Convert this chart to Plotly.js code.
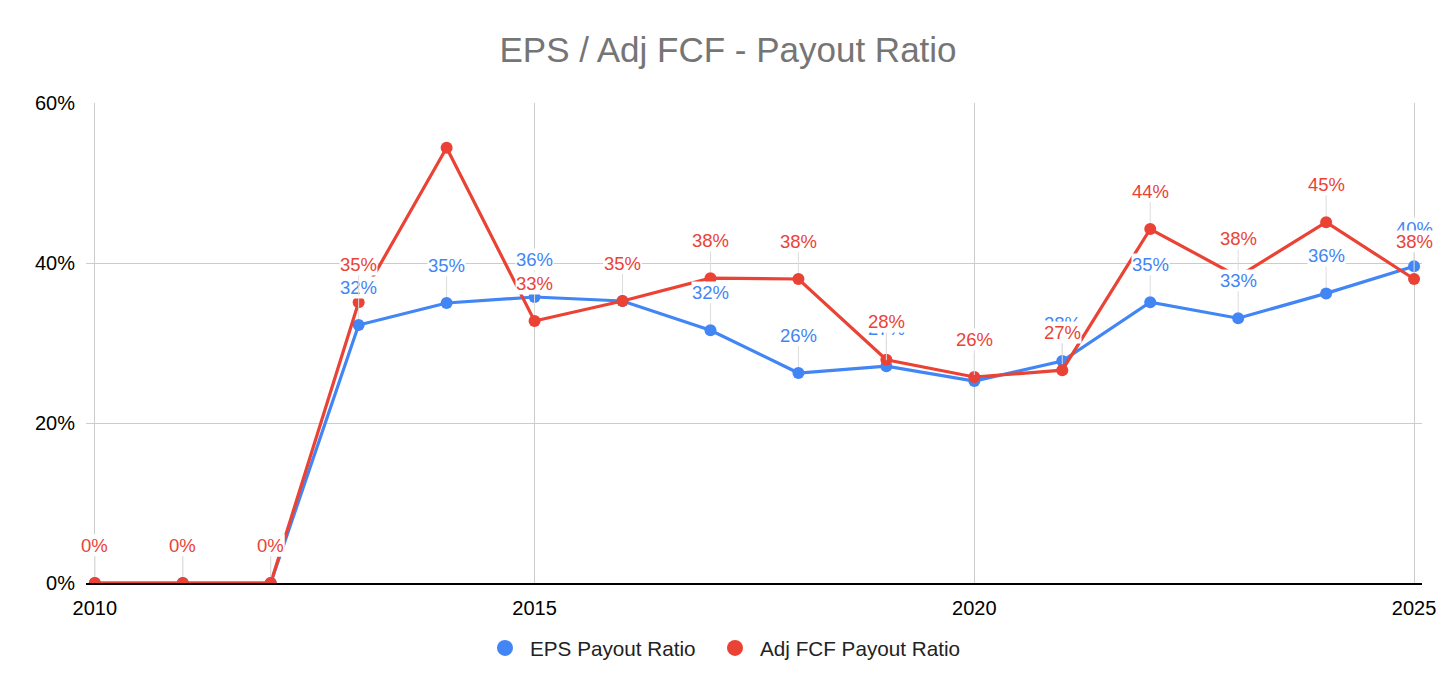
<!DOCTYPE html>
<html>
<head>
<meta charset="utf-8">
<script src="https://cdn.plot.ly/plotly-3.0.1.min.js"></script>
<style>html,body{margin:0;padding:0;background:#fff;}#chart{width:1456px;height:694px;}</style>
</head>
<body>
<div id="chart"></div>
<script>
const years = [2010, 2011, 2012, 2013, 2014, 2015, 2016, 2017, 2018, 2019, 2020, 2021, 2022, 2023, 2024, 2025];
const epsPayout = [0, 0, 0, 32.25, 35.0, 35.75, 35.25, 31.6, 26.25, 27.1, 25.25, 27.75, 35.1, 33.1, 36.2, 39.6];
const fcfPayout = [0, 0, 0, 35.1, 54.4, 32.75, 35.25, 38.1, 38.0, 27.9, 25.75, 26.6, 44.25, 38.3, 45.1, 38.0];
const fcfLabelShown = [true, true, true, true, false, true, true, true, true, true, true, true, true, true, true, true];
const seriesNames = ['EPS Payout Ratio', 'Adj FCF Payout Ratio'];
const yTicks = [0, 20, 40, 60];

const BLUE = '#4285F4', RED = '#EA4335';
const FONT = 'Liberation Sans, Arial, sans-serif';
const PLOT_L = 86, PLOT_W = 1336;

function lineTrace(y, color) {
  return {x: years, y: y, type: 'scatter', mode: 'lines+markers', showlegend: false,
    line: {color: color, width: 3.2}, marker: {color: color, size: 12}, hoverinfo: 'skip'};
}
function legendTrace(name, color, legendId) {
  return {x: [null], y: [null], type: 'scatter', mode: 'markers', name: name, legend: legendId,
    marker: {color: color, size: 20}};
}
function labels(y, color, shown) {
  const out = [];
  y.forEach((v, i) => {
    if (shown && !shown[i]) return;
    out.push({x: years[i], y: v, xref: 'x', yref: 'y', text: Math.round(v) + '%',
      showarrow: true, arrowhead: 0, arrowwidth: 1, arrowcolor: '#dddddd', ax: 0, ay: -38, standoff: 6,
      bgcolor: 'rgba(255,255,255,1)', borderpad: 0,
      font: {family: FONT, size: 18.5, color: color}});
  });
  return out;
}
function legendBox(px) {
  return {orientation: 'h', x: (px - PLOT_L) / PLOT_W, xanchor: 'left', y: -65 / 480, yanchor: 'middle',
    font: {family: FONT, size: 20.7, color: '#222'}, itemwidth: 40, itemsizing: 'trace', bgcolor: 'rgba(0,0,0,0)'};
}

const data = [
  lineTrace(epsPayout, BLUE),
  lineTrace(fcfPayout, RED),
  legendTrace(seriesNames[0], BLUE, 'legend'),
  legendTrace(seriesNames[1], RED, 'legend2')
];

const layout = {
  width: 1456, height: 694,
  margin: {l: 86, r: 34, t: 103, b: 111},
  paper_bgcolor: '#fff', plot_bgcolor: '#fff',
  font: {family: FONT, color: '#000'},
  title: {text: 'EPS / Adj FCF - Payout Ratio', font: {family: FONT, size: 35, color: '#757575'},
    x: 0.5, xanchor: 'center', y: 1 - 50 / 694, yanchor: 'middle'},
  xaxis: {range: [2009.9, 2025.09], tickvals: [2010, 2015, 2020, 2025], ticktext: ['2010', '2015', '2020', '2025'],
    showgrid: true, gridcolor: '#cccccc', gridwidth: 1, zeroline: false,
    showline: true, linecolor: '#000', linewidth: 1.5, ticks: '', ticklabelstandoff: 6,
    tickfont: {family: FONT, size: 20, color: '#000'}, fixedrange: true},
  yaxis: {range: [0, 60], tickvals: yTicks, ticktext: yTicks.map(v => v + '%'),
    showgrid: true, gridcolor: '#cccccc', gridwidth: 1, zeroline: false, showline: false,
    ticks: '', ticklabelstandoff: 10,
    tickfont: {family: FONT, size: 20, color: '#000'}, fixedrange: true},
  legend: legendBox(480),
  legend2: legendBox(710),
  annotations: labels(epsPayout, BLUE, null).concat(labels(fcfPayout, RED, fcfLabelShown)),
  showlegend: true
};

Plotly.newPlot('chart', data, layout, {displayModeBar: false, staticPlot: true});
</script>
</body>
</html>
